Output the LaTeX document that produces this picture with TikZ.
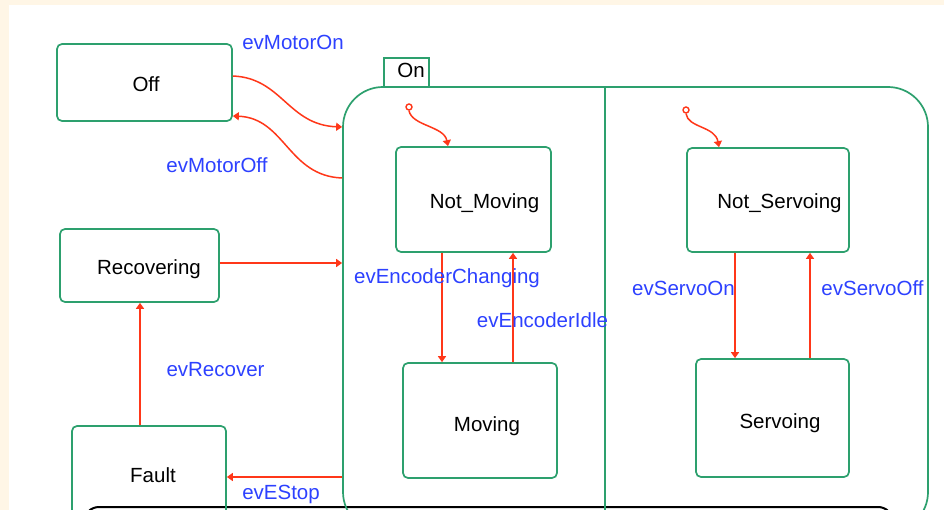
\documentclass[tikz,border=0pt]{standalone}
\usepackage{fontspec}
\setmainfont{Liberation Sans}
\usetikzlibrary{arrows.meta}
\definecolor{cream}{RGB}{255,246,230}
\definecolor{stgreen}{RGB}{45,160,110}
\definecolor{trred}{RGB}{255,55,25}
\definecolor{evblue}{RGB}{45,65,255}
\begin{document}
\begin{tikzpicture}[x=1pt,y=-1pt,
  state/.style={draw=stgreen, line width=1.7pt, rounded corners=5pt, inner sep=0pt},
  super/.style={draw=stgreen, line width=1.7pt, rounded corners=40pt, inner sep=0pt},
  tab/.style={draw=stgreen, line width=1.7pt, inner sep=0pt},
  stlabel/.style={font=\fontsize{20.5}{24}\selectfont, text=black, inner sep=0pt, anchor=base},
  ev/.style={font=\fontsize{20.5}{24}\selectfont, text=evblue, inner sep=0pt, anchor=base},
  tr/.style={draw=trred, line width=1.5pt, -{Triangle[length=6pt,width=8pt]}},
  init/.style={draw=trred, line width=1.4pt}]
\useasboundingbox (0,0) rectangle (944,510);
\clip (0,0) rectangle (944,510);
% page background
\fill[cream] (0,0) rectangle (944,510);
\fill[white] (9,5) rectangle (944,510);

% panel frame running under the lower edge
\draw[black, line width=2pt, rounded corners=15pt] (84,507) rectangle (893,580);

% composite state On with its two regions
\node[super, minimum width=585pt, minimum height=445pt] (on) at (635.5,309.5) {};
\node[tab, minimum width=45pt, minimum height=29pt] (ontab) at (406.5,72.5) {};
\node[stlabel] (ontxt) at (411,78) {On};
\coordinate (xdiv) at (605,0);
\draw[stgreen, line width=1.7pt] (on.north -| xdiv) -- (on.south -| xdiv);

% simple states
\node[state, minimum width=175pt, minimum height=77pt] (off) at (144.5,82.5) {};
\node[stlabel] (offtxt) at (146,92) {Off};
\node[state, minimum width=159pt, minimum height=73pt] (rec) at (139.5,265.5) {};
\node[stlabel] (rectxt) at (149,275) {Recovering};
\node[state, minimum width=154pt, minimum height=114pt] (fault) at (149,483) {};
\node[stlabel] (faulttxt) at (153,482) {Fault};
\node[state, minimum width=155pt, minimum height=105pt] (nm) at (473.5,199.5) {};
\node[stlabel] (nmtxt) at (484.5,209) {Not\_Moving};
\node[state, minimum width=154pt, minimum height=115pt] (mv) at (480,420.5) {};
\node[stlabel] (mvtxt) at (487,431) {Moving};
\node[state, minimum width=162pt, minimum height=104pt] (ns) at (768,200) {};
\node[stlabel] (nstxt) at (779.5,209) {Not\_Servoing};
\node[state, minimum width=153pt, minimum height=118pt] (sv) at (772.5,418) {};
\node[stlabel] (svtxt) at (780,428) {Servoing};

% levels used by the connectors
\coordinate (yA) at (0,76);
\coordinate (yB) at (0,127);
\coordinate (yC) at (0,178);
\coordinate (yD) at (0,116);
\coordinate (yE) at (0,263);
\coordinate (yF) at (0,477);
\coordinate (xR) at (140,0);
\coordinate (xL1) at (448,0);
\coordinate (xL2) at (442,0);
\coordinate (xL3) at (513,0);
\coordinate (xR1) at (719,0);
\coordinate (xR2) at (735,0);
\coordinate (xR3) at (810,0);

% transitions
\draw[tr] (off.east |- yA) .. controls (282,78) and (288,125) .. (on.west |- yB);
\draw[tr] (on.west |- yC) .. controls (288,176) and (285,118) .. (off.east |- yD);
\draw[tr] (rec.east |- yE) -- (on.west |- yE);
\draw[tr] (fault.north -| xR) -- (rec.south -| xR);
\draw[tr] (on.west |- yF) -- (fault.east |- yF);

% default transitions
\node[init, circle, minimum size=6pt, inner sep=0pt] (iL) at (409,107) {};
\draw[tr] (iL.south) .. controls (412,126) and (444,126) .. (nm.north -| xL1);
\node[init, circle, minimum size=6pt, inner sep=0pt] (iR) at (686,110) {};
\draw[tr] (iR.south) .. controls (688,128) and (715,126) .. (ns.north -| xR1);

\draw[tr] (nm.south -| xL2) -- (mv.north -| xL2);
\draw[tr] (mv.north -| xL3) -- (nm.south -| xL3);
\draw[tr] (ns.south -| xR2) -- (sv.north -| xR2);
\draw[tr] (sv.north -| xR3) -- (ns.south -| xR3);

% event labels
\node[ev] (lMotorOn) at (293,50) {evMotorOn};
\node[ev] (lMotorOff) at (217,173) {evMotorOff};
\node[ev] (lRecover) at (215.5,376) {evRecover};
\node[ev] (lEStop) at (281,499) {evEStop};
\node[ev] (lEncCh) at (447,284) {evEncoderChanging};
\node[ev] (lEncIdle) at (542.5,327) {evEncoderIdle};
\node[ev] (lServoOn) at (683.5,296) {evServoOn};
\node[ev] (lServoOff) at (872.5,296) {evServoOff};
\end{tikzpicture}
\end{document}
